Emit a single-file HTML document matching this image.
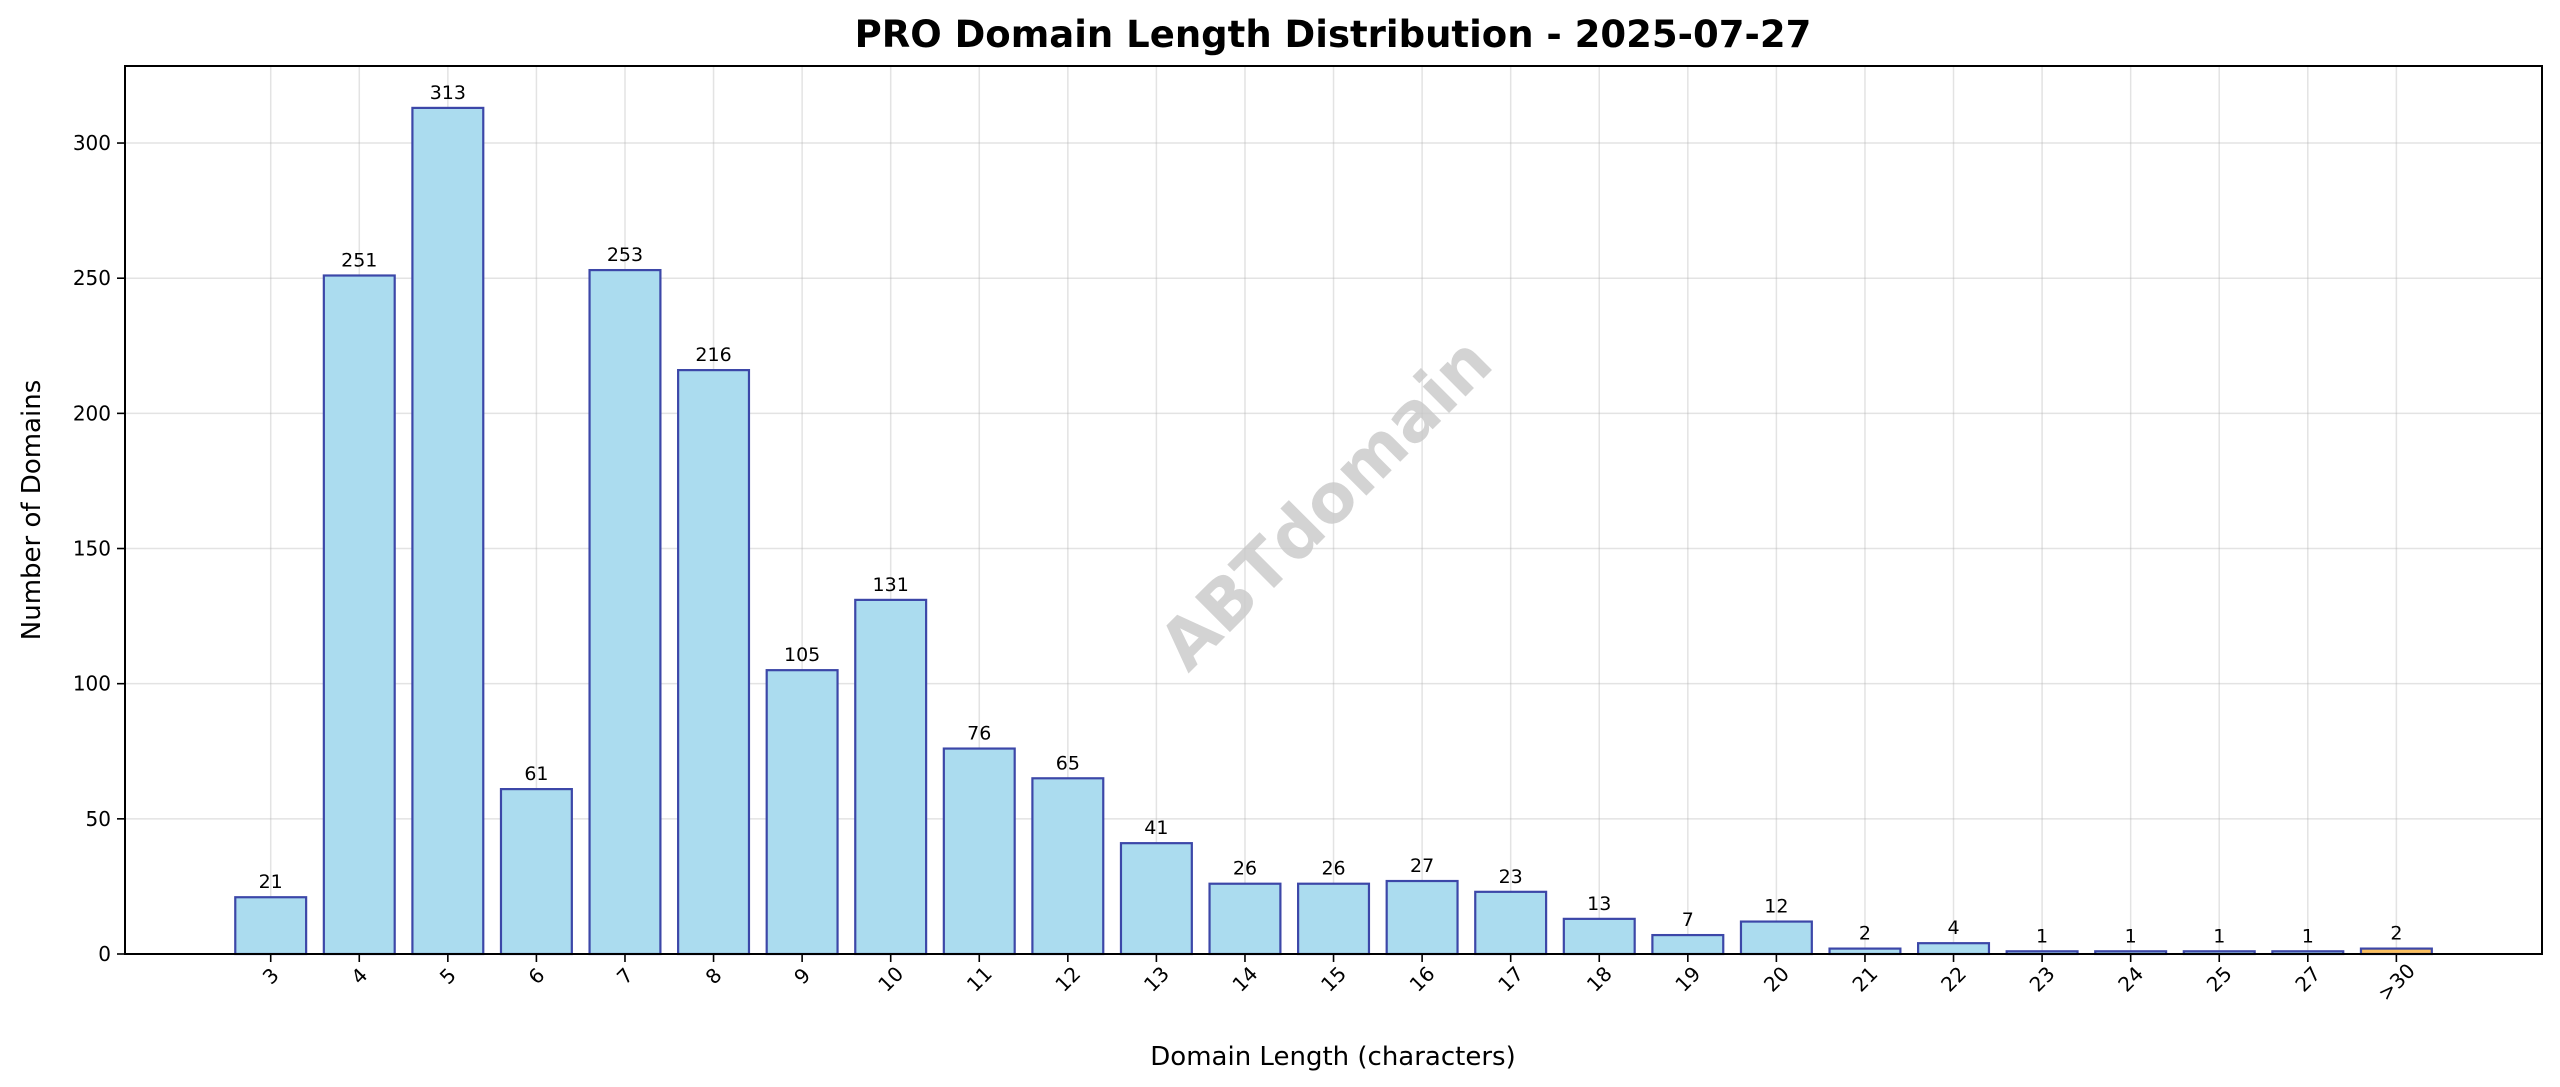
<!DOCTYPE html>
<html><head><meta charset="utf-8"><style>
html,body{margin:0;padding:0;background:#fff;}
svg{display:block;font-family:"DejaVu Sans","Liberation Sans",sans-serif;}
</style></head><body>
<svg id="chart" width="2560" height="1087" viewBox="0 0 2560 1087">
<rect width="2560" height="1087" fill="#fff"/>
<g id="grid"></g>
<text x="1342" y="520" transform="rotate(-45 1342 520)" text-anchor="middle" font-size="68" font-weight="bold" fill="#c8c8c8" fill-opacity="0.8">ABTdomain</text>
<g id="bars"></g>
<g id="axes"></g>
<text x="1333" y="47" text-anchor="middle" font-size="37" font-weight="bold" fill="#000">PRO Domain Length Distribution - 2025-07-27</text>
<text x="1333" y="1065" text-anchor="middle" font-size="26" fill="#000">Domain Length (characters)</text>
<text x="40" y="510" transform="rotate(-90 40 510)" text-anchor="middle" font-size="26" fill="#000">Number of Domains</text>
</svg>
<script>
const categories = ["3","4","5","6","7","8","9","10","11","12","13","14","15","16","17","18","19","20","21","22","23","24","25","27",">30"];
const counts = [21,251,313,61,253,216,105,131,76,65,41,26,26,27,23,13,7,12,2,4,1,1,1,1,2];
const yTicks = [0,50,100,150,200,250,300];

const NS = "http://www.w3.org/2000/svg";
const L = 125, R = 2542, T = 66, B = 954;
const yMax = 328.5;
const x0 = 270.7, step = 88.57;
function xPos(i){ return x0 + i*step; }
function yPos(v){ return B - v/yMax*(B-T); }
function mk(tag, attrs, parent){
  const e = document.createElementNS(NS, tag);
  for (const k in attrs) e.setAttribute(k, attrs[k]);
  parent.appendChild(e);
  return e;
}
const grid = document.getElementById('grid');
const bars = document.getElementById('bars');
const axes = document.getElementById('axes');

yTicks.forEach(v => {
  const y = yPos(v);
  const g = mk('line', {x1:L, x2:R, y1:y, y2:y, stroke:'#b0b0b0', 'stroke-opacity':0.35, 'stroke-width':1.5}, grid);
  
  
  const t = mk('line', {x1:L-8, x2:L, y1:y, y2:y, stroke:'#000', 'stroke-width':1.6}, axes);
  
  
  const lb = mk('text', {x:L-14, y:y+7, 'text-anchor':'end', 'font-size':20, fill:'#000'}, axes);
  lb.textContent = v;
  
  
});

const bw = step*0.8;
categories.forEach((c, i) => {
  const x = xPos(i);
  const g = mk('line', {x1:x, x2:x, y1:T, y2:B, stroke:'#b0b0b0', 'stroke-opacity':0.35, 'stroke-width':1.5}, grid);
  
  
  const v = counts[i];
  const y = yPos(v);
  const isLast = c === ">30";
  const r = mk('rect', {x:x-bw/2, y:y, width:bw, height:B-y, fill:isLast?'#fbbf5e':'#abdcef', stroke:'#3c47a8', 'stroke-width':2.2}, bars);
  
  
  const vl = mk('text', {x:x, y:y-9, 'text-anchor':'middle', 'font-size':19, fill:'#000'}, bars);
  vl.textContent = v;
  
  
  const t = mk('line', {x1:x, x2:x, y1:B, y2:B+8, stroke:'#000', 'stroke-width':1.6}, axes);
  
  
  const ty = B + 26 + c.length*3;
  const lb = mk('text', {x:x, y:ty, 'text-anchor':'middle', 'font-size':20, fill:'#000', transform:'rotate(-45 '+x+' '+(ty-7)+')'}, axes);
  lb.textContent = c;
  
  
});

const frame = mk('rect', {x:L, y:T, width:R-L, height:B-T, fill:'none', stroke:'#000', 'stroke-width':2}, axes);


</script>
</body></html>
